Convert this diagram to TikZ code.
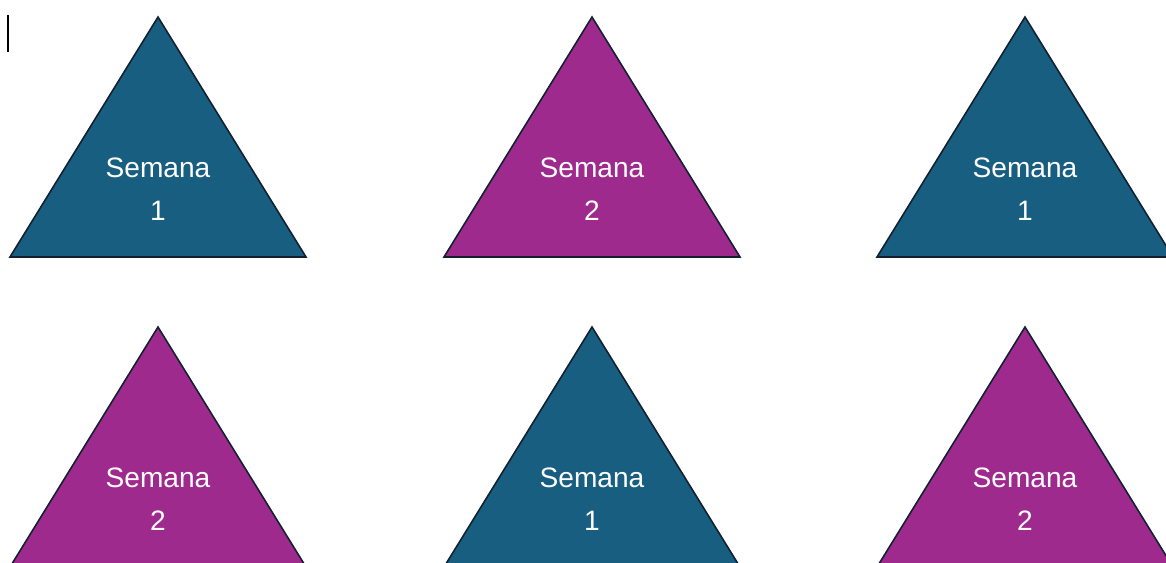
\documentclass[tikz,border=0pt]{standalone}
\usepackage{fontspec}
\setmainfont{Liberation Sans}

\definecolor{weekone}{RGB}{23,94,128}
\definecolor{weektwo}{RGB}{158,42,142}
\definecolor{rim}{RGB}{18,32,48}

\begin{document}
\begin{tikzpicture}[
  x=0.02cm, y=-0.02cm,
  weeklabel/.style={text=white, align=center,
                    font=\fontsize{16}{24.5}\selectfont},
  pics/week/.style 2 args={code={
    \filldraw[fill=#1, draw=rim, line width=0.9pt]
      (0,0) -- (148,240) -- (-148,240) -- cycle;
    \node[weeklabel] (-txt) at (0,172) {Semana\\#2};
  }}
]
  \useasboundingbox (0,0) rectangle (1166,562);
  \clip (0,0) rectangle (1166,562);

  % top row
  \pic (wA) at (158,17)  {week={weekone}{1}};
  \pic (wB) at (592,17)  {week={weektwo}{2}};
  \pic (wC) at (1025,17) {week={weekone}{1}};

  % bottom row
  \pic (wD) at (158,327)  {week={weektwo}{2}};
  \pic (wE) at (592,327)  {week={weekone}{1}};
  \pic (wF) at (1025,327) {week={weektwo}{2}};

  % text cursor
  \coordinate (curtop) at (8,15);
  \coordinate (curbot) at (8,52);
  \draw[black, line width=0.6pt] (curtop) -- (curbot);
\end{tikzpicture}
\end{document}
